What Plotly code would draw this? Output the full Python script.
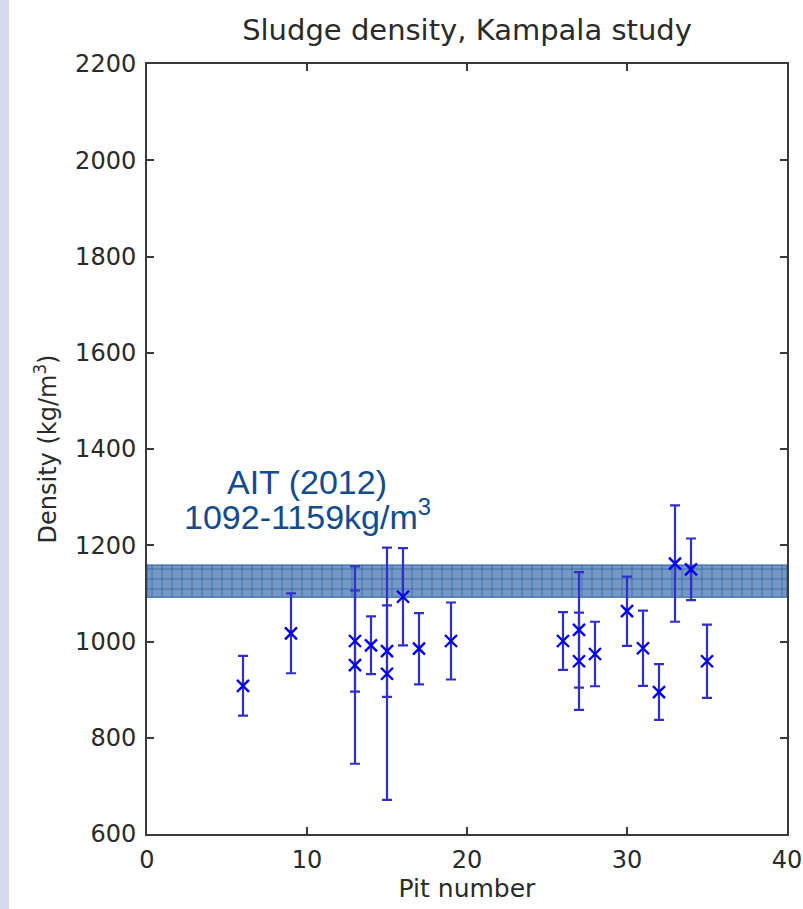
import plotly.graph_objects as go

# Data
pit = [6, 9, 13, 13, 14, 15, 15, 16, 17, 19, 26, 27, 27, 28, 30, 31, 32, 33, 34, 35]
density = [908, 1017, 1001, 951, 992, 980, 933, 1093, 985, 1001,
           1001, 1024, 959, 974, 1063, 986, 895, 1162, 1150, 959]
err = [62, 83, 105, 205, 60, 95, 262, 101, 74, 80,
       60, 120, 101, 67, 72, 78, 58, 121, 64, 76]

band_low, band_high = 1092, 1159
x_range = [0, 40]
y_range = [600, 2200]
x_ticks = [0, 10, 20, 30, 40]
y_ticks = [600, 800, 1000, 1200, 1400, 1600, 1800, 2000, 2200]

fig = go.Figure()

# AIT (2012) band
fig.add_trace(go.Scatter(
    x=[x_range[0], x_range[1], x_range[1], x_range[0], x_range[0]],
    y=[band_low, band_low, band_high, band_high, band_low],
    fill="toself", mode="lines",
    line=dict(color="#2a5f9a", width=1),
    fillcolor="#6d93bf",
    fillpattern=dict(shape="+", fgcolor="#1c5797", bgcolor="#7599c4",
                     size=10, solidity=0.12, fillmode="replace"),
    hoverinfo="skip", showlegend=False,
))

# Measurements with error bars
fig.add_trace(go.Scatter(
    x=pit, y=density, mode="markers",
    marker=dict(symbol="x-thin", size=12, color="#0000ee",
                line=dict(color="#0000ee", width=2.4)),
    error_y=dict(type="data", array=err, visible=True,
                 color="#3030c8", thickness=2.2, width=5),
    showlegend=False,
))

fig.add_annotation(x=10.0, y=1331, xref="x", yref="y", text="AIT (2012)",
                   showarrow=False, xanchor="center", yanchor="middle",
                   font=dict(family="Liberation Sans, Arial", size=34, color="#124c8c"))
fig.add_annotation(x=10.0, y=1263, xref="x", yref="y",
                   text="1092-1159kg/m<sup>3</sup>",
                   showarrow=False, xanchor="center", yanchor="middle",
                   font=dict(family="Liberation Sans, Arial", size=34, color="#124c8c"))

# Left slide-background strip
fig.add_shape(type="rect", xref="paper", yref="paper",
              x0=-147/640, x1=-138/640, y0=-1, y1=2,
              fillcolor="#d3dcec", line=dict(width=0), layer="below")

axis_common = dict(
    showline=True, linecolor="#3a3a3a", linewidth=2, mirror="ticks",
    ticks="inside", ticklen=7, tickwidth=1.5, tickcolor="#3a3a3a",
    showgrid=False, zeroline=False, automargin=False,
    tickfont=dict(family="DejaVu Sans", size=24, color="#2a2a2a"),
)

fig.update_layout(
    width=803, height=909,
    margin=dict(l=147, r=16, t=64, b=75),
    paper_bgcolor="white", plot_bgcolor="white",
    title=dict(text="Sludge density, Kampala study", x=(147 + 787) / 2 / 803,
               xanchor="center", y=1 - 30 / 909, yanchor="middle",
               font=dict(family="DejaVu Sans", size=29, color="#2a2a2a")),
    xaxis=dict(range=x_range, tickvals=x_ticks, **axis_common,
               ticklabelstandoff=3,
               title=dict(text="Pit number", standoff=2,
                          font=dict(family="DejaVu Sans", size=25, color="#2a2a2a"))),
    yaxis=dict(range=y_range, tickvals=y_ticks, **axis_common,
               ticklabelstandoff=4,
               title=dict(text="Density (kg/m<sup>3</sup>)", standoff=12,
                          font=dict(family="DejaVu Sans", size=24, color="#2a2a2a"))),
)

fig.write_html("out.html")
